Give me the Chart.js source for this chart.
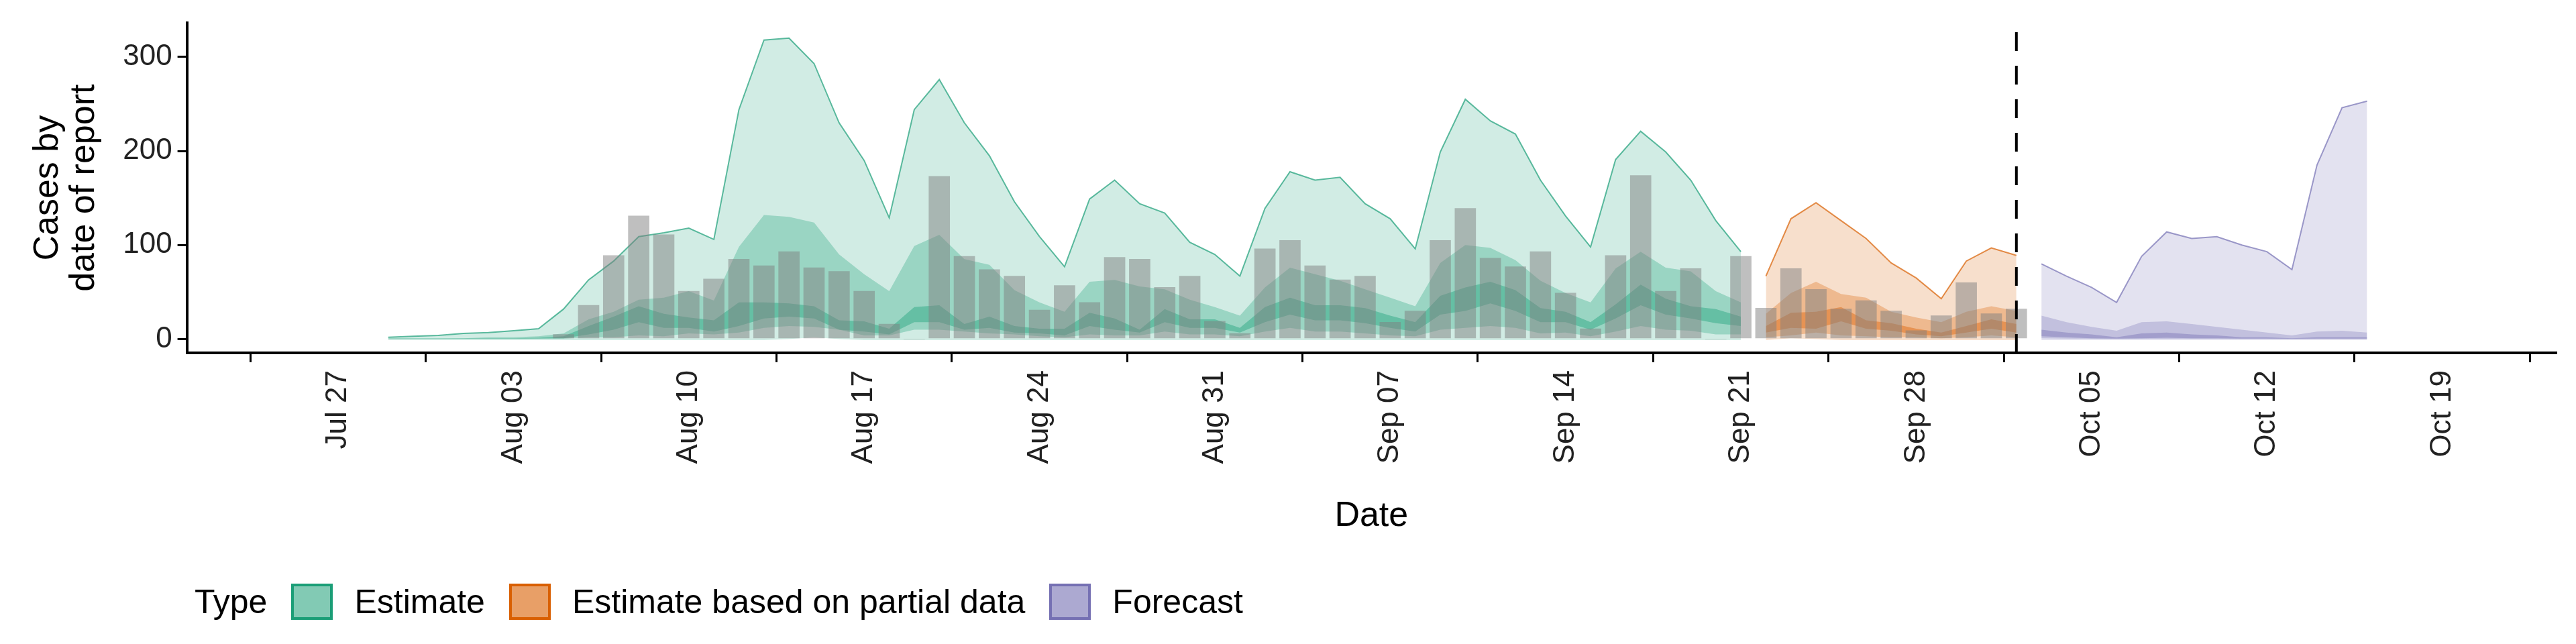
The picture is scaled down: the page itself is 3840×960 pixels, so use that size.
<!DOCTYPE html>
<html>
<head>
<meta charset="utf-8">
<script src="https://cdn.jsdelivr.net/npm/chart.js@4"></script>
<style>
  body { margin: 0; background: #fff; font-family: "Liberation Sans", Arial, sans-serif; }
  #wrap { position: relative; width: 3840px; height: 960px; }
  #chartBox { position: absolute; left: 0; top: 0; width: 3840px; height: 830px; }
  #legend { position: absolute; left: 290px; top: 868px; display: flex; align-items: center; font-size: 50px; color: #000; }
  #legend .box { width: 62px; height: 54px; border: 4px solid; box-sizing: border-box; margin-right: 32px; }
  #legend .item { display: flex; align-items: center; margin-right: 36px; }
</style>
</head>
<body>
<div id="wrap">
  <div id="chartBox"><canvas id="c"></canvas></div>
  <div id="legend">
    <span style="margin-right:36px">Type</span>
    <span class="item"><span class="box" style="background:rgba(27,158,119,0.55);border-color:#1b9e77"></span>Estimate</span>
    <span class="item"><span class="box" style="background:rgba(217,95,2,0.6);border-color:#d95f02"></span>Estimate based on partial data</span>
    <span class="item"><span class="box" style="background:rgba(117,112,179,0.6);border-color:#7570b3"></span>Forecast</span>
  </div>
</div>
<script>
// day 0 = Jul 27
const xTickDays = [0, 7, 14, 21, 28, 35, 42, 49, 56, 63, 70, 77, 84];
const xTickLabels = ["Jul 27", "Aug 03", "Aug 10", "Aug 17", "Aug 24", "Aug 31", "Sep 07", "Sep 14", "Sep 21", "Sep 28", "Oct 05", "Oct 12", "Oct 19"];
const yTickValues = [0, 100, 200, 300];
const forecastDate = 67;

// reported cases, days 9..67
const barStart = 9;
const reported = [5,36,89,131,111,51,64,85,78,93,76,72,51,16,0,173,88,74,67,31,57,39,87,85,
  55,67,19,6,96,105,78,63,67,18,30,105,139,86,77,93,49,11,89,174,51,75,0,88,
  33,75,53,32,41,30,9,25,60,27,32];

// Estimate, days 2..56
const estStart = 2;
const estUpper90 = [2,3,4,6,7,9,11, 32,63,83,109,113,118,106,244,318,320,293,230,190,129,244,276,230,195,146,109,77,149,169,144,
  134,103,90,67,139,178,169,172,144,128,96,199,255,232,218,169,131,98,191,221,199,169,126,93];
const estUpper50 = [1,1,1,1,2,2,3, 6,21,29,42,44,51,41,98,132,130,124,90,69,51,99,111,85,79,52,39,29,61,63,56,
  53,42,34,25,55,76,69,62,53,44,35,81,100,97,84,62,49,39,75,93,76,72,51,39];
const estUpper20 = [0.5,0.5,0.5,1,1,1,1.5, 3,14,24,35,27,23,20,39,39,38,35,20,19,11,34,36,16,24,14,11,11,28,22,10,
  32,21,21,12,34,44,36,36,33,25,18,46,55,61,52,33,29,18,37,58,43,35,32,24];
const estLower20 = [0.3,0.3,0.3,0.5,0.5,0.5,0.8, 1,5,10,18,12,12,8,14,22,24,22,10,8,5,18,18,10,12,7,6,4,14,10,7,
  18,12,12,7,18,26,20,20,17,12,8,26,30,38,30,18,18,10,22,36,26,22,17,14];
const estLower50 = [0,0,0,0.2,0.2,0.2,0.4, 0.5,2,2,4,3,6,5,7,12,14,13,10,4,4,10,10,8,6,5,3,2,5,4,4,
  8,5,5,3,8,12,8,8,6,4,3,10,12,14,12,6,7,3,8,14,10,9,5,5];
const estLower90 = [-1,-1,-1,-1,-1,-1,-1, -1,-1,-1,-1,-1,-1,-1,-1,-1,0,2,0,-1,-1,-1,-1,-1,-1,-1,-1,-1,-1,-1,-1,
  -1,-1,-1,-1,-1,-1,-1,-1,-1,-1,-1,-1,-1,-1,-1,-1,-1,-1,-1,-1,-1,-1,-1,-1];

// Estimate based on partial data, days 57..67
const partStart = 57;
const partUpper90 = [67,128,145,126,107,81,65,43,83,97,89];
const partUpper50 = [27,49,61,48,44,29,23,18,29,35,30];
const partUpper20 = [14,28,29,34,20,17,11,7,14,21,16];
const partLower20 = [7,12,11,19,11,9,5,3,7,11,7];
const partLower50 = [2,4,7,4,3,2,2,1,2,4,2];
const partLower90 = [-1,1,0,-1,-1,-1,-1,-1,-1,-1,-1];

// Forecast, days 68..81
const fcStart = 68;
const fcUpper90 = [80,67,55,39,88,114,107,109,100,93,74,185,246,253];
const fcUpper50 = [25,18,13,9,18,19,16,13,10,7,4,8,9,7];
const fcUpper20 = [10,7,5,2,6,7,5,4,2,2,1,2,2,2];
const fcLower20 = [3,2,1,0.5,1,1.5,1,1,0.5,0.5,0.3,0.5,0.5,0.5];
const fcLower50 = [1,0.5,0.3,0.2,0.3,0.4,0.3,0.3,0.2,0.2,0.1,0.2,0.2,0.2];
const fcLower90 = [-1,-1,-1,-1,-1,-1,-1,-1,-1,-1,-1,-1,-1,-1];

const pts = (start, arr) => arr.map((v, i) => ({ x: start + i, y: v }));

function band(start, lower, upper, rgb, alpha, edge) {
  return [
    { data: pts(start, lower), borderWidth: 0, pointRadius: 0, fill: false, tension: 0 },
    { data: pts(start, upper), borderWidth: edge ? 2 : 0, borderColor: `rgba(${rgb},0.7)`, pointRadius: 0,
      fill: "-1", backgroundColor: `rgba(${rgb},${alpha})`, tension: 0 }
  ];
}

function group(start, l90, l50, l20, u20, u50, u90, rgb) {
  return [
    ...band(start, l90, u90, rgb, 0.2, true),
    ...band(start, l50, u50, rgb, 0.3, false),
    ...band(start, l20, u20, rgb, 0.42, false),
  ];
}

const G = "27,158,119", O = "217,95,2", P = "117,112,179";

const datasets = [
  ...group(estStart, estLower90, estLower50, estLower20, estUpper20, estUpper50, estUpper90, G),
  ...group(partStart, partLower90, partLower50, partLower20, partUpper20, partUpper50, partUpper90, O),
  ...group(fcStart, fcLower90, fcLower50, fcLower20, fcUpper20, fcUpper50, fcUpper90, P),
  { type: "bar", data: pts(barStart, reported), backgroundColor: "rgba(128,128,128,0.5)", barThickness: 31, order: -1 },
  { data: [{ x: forecastDate, y: -14.6 }, { x: forecastDate, y: 336 }], borderColor: "#000", borderWidth: 4,
    borderDash: [28, 22], pointRadius: 0, fill: false, order: -2 },
];

// rotated x labels and the "Date" title, drawn by hand so they sit on the ticks
const xLabelsPlugin = {
  id: "xLabels",
  afterDraw(chart) {
    const { ctx, scales: { x }, chartArea } = chart;
    ctx.save();
    ctx.fillStyle = "#222";
    ctx.font = '44px "Liberation Sans"';
    ctx.textAlign = "right";
    ctx.textBaseline = "middle";
    xTickDays.forEach((d, i) => {
      ctx.save();
      ctx.translate(x.getPixelForValue(d), chartArea.bottom + 26);
      ctx.rotate(-Math.PI / 2);
      ctx.fillText(xTickLabels[i], 0, 0);
      ctx.restore();
    });
    ctx.fillStyle = "#000";
    ctx.font = '52px "Liberation Sans"';
    ctx.textAlign = "center";
    ctx.fillText("Date", (chartArea.left + chartArea.right) / 2, 770);
    ctx.restore();
  }
};

const font = { family: "Liberation Sans", size: 44 };

new Chart(document.getElementById("c"), {
  type: "line",
  data: { datasets },
  plugins: [xLabelsPlugin],
  options: {
    responsive: true,
    maintainAspectRatio: false,
    animation: false,
    layout: { padding: { top: 32, right: 30, left: 40, bottom: 290 } },
    plugins: { legend: { display: false }, tooltip: { enabled: false } },
    scales: {
      x: {
        type: "linear", min: -2.4, max: 84.9,
        afterBuildTicks: (ax) => { ax.ticks = xTickDays.map(v => ({ value: v })); },
        ticks: { display: false },
        grid: { drawOnChartArea: false, drawTicks: true, tickLength: 14, color: "#000", lineWidth: 3 },
        border: { display: true, color: "#000", width: 4 },
      },
      y: {
        min: -14.6, max: 336,
        afterBuildTicks: (ax) => { ax.ticks = yTickValues.map(v => ({ value: v })); },
        ticks: { font, color: "#222", padding: 8 },
        grid: { drawOnChartArea: false, drawTicks: true, tickLength: 14, color: "#000", lineWidth: 3 },
        border: { display: true, color: "#000", width: 4 },
        title: { display: true, text: ["Cases by", "date of report"], font: { family: "Liberation Sans", size: 52, lineHeight: 1.05 }, color: "#000", padding: { bottom: 22 } },
      },
    },
  },
});
</script>
</body>
</html>
